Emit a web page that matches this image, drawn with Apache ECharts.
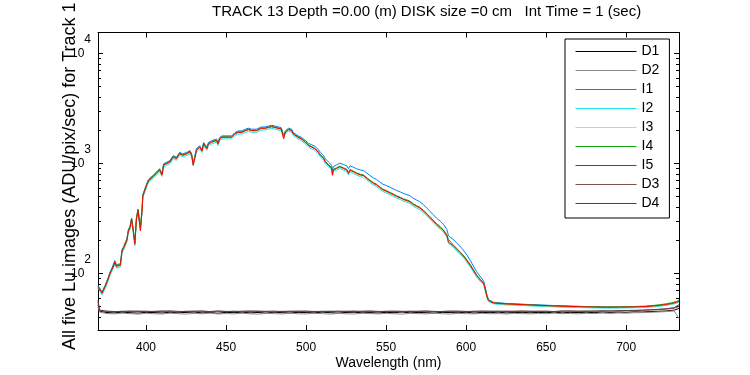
<!DOCTYPE html>
<html>
<head>
<meta charset="utf-8">
<script src="https://cdn.jsdelivr.net/npm/echarts@6/dist/echarts.min.js"></script>
<style>
  html, body { margin: 0; padding: 0; background: #fff; }
  #chart { width: 750px; height: 375px; }
</style>
</head>
<body>
<div id="chart"></div>
<script>
// wavelength grid (nm) for the five Lu image tracks
var wl = [370,371,372.5,374.5,376.5,377.5,378.5,379.5,380.5,381.5,
  382.5,384,385,386,387,388,389,390,391,392,
  393,394,395,396,396.5,397.5,398,399,400.5,401.5,
  402.5,404.5,406.5,408.5,410,411,413,415,417,419,
  421,423,425.5,427.5,428.5,429.5,430.5,431.5,433.5,435,
  436,437,438,439,440,441,442,444,445,446,
  447.5,449.5,450.5,451.5,452.5,453.5,454.5,455.5,457.5,460,
  462,464,466,467,469,470,472,474.5,476.5,478.5,
  480.5,482.5,484.5,486,487,489,490,491,492,493,
  495,497,499.5,501.5,503.5,505.5,507.5,509,511,512,
  514,516,516.5,517,519,521,523.5,525.5,526.5,527.5,
  529.5,531.5,534,536,538,540,542,544,546,548,
  550.5,552.5,554.5,556.5,559,561,563,565,567,569,
  571,573.5,575.5,577.5,579.5,581.5,584,586,588,589,
  590,592,594,596,598,600.5,602.5,604.5,606.5,609,
  610,611,612,613,614,615,617,621,625,630,
  638,646,655,663,671,680,688,696,705,712,
  717,721,725,728.5,731.5,733];

var I1 = [78,75,68,78,93,103,110,114,131,120,
  116,123,165,175,191,205,251,269,320,251,
  191,320,385,379,256,379,518,574,659,716,
  731,783,837,899,812,996,1030,1067,1182,1142,
  1266,1225,1266,1312,1225,1000,1030,1359,1454,1339,
  1556,1506,1405,1556,1506,1613,1671,1671,1556,1726,
  1787,1787,1851,1787,1726,1787,1851,1914,1981,1981,
  2053,2097,2053,1981,2053,2122,2154,2154,2197,2228,
  2197,2154,2122,1790,1981,2097,2122,2053,1914,1851,
  1787,1734,1628,1528,1483,1439,1350,1263,1180,1105,
  1033,966,860,936,970,1008,978,951,900,955,
  927,898,873,863,817,777,741,718,681,649,
  628,608,589,569,551,533,522,508,483,466,
  450,421,393,367,342,319,298,278,251,220,
  227,204,190,178,165,147,132,117,104,93,
  89,85,74,64,57.8,55.6,54.7,54,53.4,52.9,
  52.3,51.7,51.1,50.6,50.2,49.8,49.5,49.6,49.8,50.1,
  50.6,51.2,52,53.1,54.4,55.5];

var I2 = [73,70,64,73,87,96,103,107,122,112,
  109,115,154,164,178,192,236,252,300,238,
  178,300,361,355,250,356,486,538,618,671,
  685,733,785,843,765,933,965,1000,1108,1071,
  1186,1148,1186,1230,1150,950,970,1273,1362,1262,
  1458,1412,1320,1458,1412,1512,1565,1566,1460,1618,
  1675,1676,1735,1676,1620,1676,1735,1794,1856,1858,
  1924,1965,1925,1858,1925,1988,2018,2020,2060,2088,
  2060,2020,1990,1740,1858,1965,1988,1925,1795,1736,
  1676,1618,1512,1412,1363,1317,1230,1148,1071,1000,
  934,871,770,843,871,902,871,843,787,843,
  814,785,760,749,708,671,639,618,585,557,
  538,519,503,486,469,454,444,432,409,395,
  381,356,333,311,290,270,252,236,213,188,
  192,173,161,151,141,126.5,115,103.5,93,84,
  81,78.5,69,60,55.5,53.8,53,52.3,51.8,51.5,
  50.9,50.3,49.7,49.3,48.9,48.6,48.4,48.5,48.7,49.1,
  49.7,50.4,51.3,52.4,53.6,55];

var I3 = [76,72,66,75,90,99,106,111,126,116,
  113,118,158,169,184,198,242,260,308,246,
  186,308,370,366,260,366,498,552,634,690,
  704,754,806,866,795,960,993,1028,1140,1102,
  1220,1180,1220,1265,1182,985,1005,1310,1402,1300,
  1500,1452,1360,1500,1452,1555,1610,1612,1505,1665,
  1722,1725,1785,1725,1668,1725,1785,1846,1910,1912,
  1980,2022,1982,1915,1982,2046,2078,2080,2120,2150,
  2122,2080,2048,1780,1912,2024,2046,1982,1848,1787,
  1725,1666,1557,1455,1405,1357,1268,1183,1104,1032,
  963,898,800,868,897,928,897,868,812,868,
  838,809,783,771,729,691,658,636,602,574,
  554,535,518,500,483,467,457,444,422,407,
  393,367,343,320,298,278,259,242,219,196,
  197,178,166,155,145,130,118,106,95.5,86.5,
  83.5,80.5,71,61,56.4,54.5,53.8,53.1,52.6,52.2,
  51.6,51,50.4,50,49.6,49.3,49.1,49.2,49.4,49.8,
  50.4,51.1,52,53,54.3,55.8];

var I4 = [75,72,67,77,92,101,108,113,128,118,
  115,121,162,172,188,203,248,266,316,250,
  190,318,380,374,268,375,510,565,650,705,
  720,772,825,885,805,980,1012,1050,1162,1125,
  1245,1205,1245,1290,1205,1000,1020,1335,1428,1325,
  1530,1480,1385,1528,1480,1585,1640,1640,1535,1695,
  1755,1755,1815,1755,1700,1755,1815,1875,1940,1942,
  2012,2055,2012,1945,2012,2080,2110,2110,2152,2182,
  2152,2110,2080,1800,1945,2055,2080,2012,1880,1818,
  1755,1696,1585,1480,1430,1380,1290,1205,1123,1050,
  980,915,820,885,915,946,914,885,830,885,
  855,825,798,787,743,705,672,650,615,586,
  565,546,529,510,493,477,467,454,431,415,
  401,375,350,327,305,284,265,248,225,204,
  202,182,170,158,148,133,121,109,97.5,88,
  85,82,72.5,62.5,57.3,55.2,54.2,53.6,53.1,52.7,
  52.1,51.4,50.9,50.4,50.1,49.8,49.6,49.7,50,50.5,
  51.2,52,53,54.2,55.6,57.5];

var I5 = [76,73,66,76,90,100,107,111,127,116,
  113,119,160,170,185,199,244,261,311,244,
  185,311,374,368,244,368,503,557,640,695,
  710,760,813,873,787,967,1000,1036,1148,1109,
  1229,1189,1229,1274,1189,968,1000,1319,1412,1300,
  1511,1462,1364,1511,1462,1566,1622,1622,1511,1676,
  1735,1735,1797,1735,1676,1735,1797,1858,1923,1923,
  1993,2036,1993,1923,1993,2060,2091,2091,2133,2163,
  2133,2091,2060,1676,1923,2036,2060,1993,1858,1797,
  1735,1676,1566,1462,1412,1364,1274,1189,1109,1036,
  967,902,787,873,902,934,902,873,813,873,
  843,813,787,776,733,695,662,640,606,577,
  557,538,521,503,486,470,460,447,424,409,
  395,369,345,322,300,280,261,244,220,192,
  199,179,167,156,146,131,119,107,96,87,
  84,81,71,61.5,56.7,54.8,54,53.3,52.8,52.5,
  51.8,51.2,50.6,50.2,49.8,49.5,49.3,49.4,49.6,50,
  50.6,51.3,52.2,53.3,54.6,56];

// wavelength grid (nm) for the dark tracks
var wlD = [370,371,375,380,385,390,395,400,405,410,
  415,420,425,430,435,440,445,450,455,460,
  465,470,475,480,485,490,495,500,505,510,
  515,520,525,530,535,540,545,550,555,560,
  565,570,575,580,585,590,595,600,605,610,
  615,620,625,630,635,640,645,650,655,660,
  665,670,675,680,685,690,695,700,705,710,
  715,720,725,730,733];

var D1 = [52,45.5,44.2,43.8,44.5,44.0,43.6,44.3,44.1,43.7,
  44.4,43.9,44.2,44.6,43.8,44.1,43.5,44.3,44.0,44.5,
  43.8,44.2,43.6,44.4,44.0,43.7,44.3,44.1,43.8,44.5,
  44.0,43.6,44.2,44.4,43.9,44.1,43.7,44.3,44.0,44.6,
  43.8,44.2,44.0,43.6,44.3,44.1,43.9,44.4,43.7,44.2,
  44.0,44.5,43.8,44.1,44.3,43.9,44.2,44.0,44.5,43.8,
  44.3,44.1,44.4,44.0,44.6,44.2,44.5,44.3,44.8,44.6,
  45.0,45.3,45.6,46.4,48];

var D2 = [50,44.5,43.3,42.9,43.5,43.1,42.7,43.4,43.0,42.8,
  43.5,43.1,42.7,43.3,43.0,43.6,42.8,43.2,42.9,43.4,
  43.0,42.7,43.3,43.1,42.8,43.5,43.0,42.9,43.4,43.1,
  42.7,43.3,43.0,42.8,43.5,43.2,42.9,43.3,43.0,42.7,
  43.4,43.1,42.9,43.5,43.0,42.8,43.3,43.1,42.9,43.4,
  43.0,43.2,42.8,43.4,43.1,42.9,43.3,43.0,43.5,43.1,
  43.3,42.9,43.4,43.2,43.6,43.3,43.7,43.5,43.9,44.0,
  44.3,44.6,45.0,45.6,39];

var D3 = [55,46.0,45.2,44.8,45.4,45.0,45.5,44.9,45.3,45.6,
  45.0,44.7,45.4,45.1,45.6,44.9,45.3,45.0,45.5,44.8,
  45.2,45.6,45.0,44.7,45.3,45.1,45.5,44.9,45.2,45.0,
  45.4,44.8,45.3,45.6,45.0,45.2,44.8,45.4,45.1,44.9,
  45.5,45.0,45.3,44.8,45.2,45.5,45.0,44.9,45.4,45.1,
  45.3,44.9,45.5,45.0,45.2,45.4,44.9,45.3,45.1,45.6,
  45.2,45.4,45.0,45.5,45.3,45.7,45.4,45.8,45.9,46.2,
  46.5,46.9,47.4,48.3,50];

var D4 = [57,46.5,45.5,45.1,45.0,45.6,45.2,45.4,44.9,45.3,
  45.7,45.2,45.0,45.5,45.3,45.1,45.6,45.2,44.9,45.4,
  45.6,45.1,45.3,45.5,45.0,45.4,45.2,45.6,45.0,45.3,
  45.1,45.5,45.2,45.0,45.4,45.6,45.2,45.1,45.5,45.3,
  45.0,45.4,45.6,45.2,45.0,45.3,45.5,45.2,45.1,45.6,
  45.3,45.5,45.1,45.4,45.6,45.2,45.5,45.3,45.0,45.4,
  45.7,45.3,45.6,45.4,45.8,45.5,45.9,46.0,46.2,46.4,
  46.8,47.2,47.8,48.8,52];

var xTicks = [400, 450, 500, 550, 600, 650, 700];
var yMajor = [100, 1000, 10000];
var yMinor = [40, 50, 60, 70, 80, 90, 200, 300, 400, 500, 600, 700, 800, 900,
  2000, 3000, 4000, 5000, 6000, 7000, 8000, 9000];

var FONT = '"Liberation Sans", Arial, sans-serif';

function pairs(xs, ys) {
  var out = [];
  for (var i = 0; i < xs.length; i++) out.push([xs[i], ys[i]]);
  return out;
}

var lines = [
  {name: 'D1', x: wlD, y: D1, color: '#000000'},
  {name: 'D2', x: wlD, y: D2, color: '#8c8c8c'},
  {name: 'I1', x: wl, y: I1, color: '#0080ff'},
  {name: 'I2', x: wl, y: I2, color: '#20e0e8'},
  {name: 'I3', x: wl, y: I3, color: '#80ff80'},
  {name: 'I4', x: wl, y: I4, color: '#10a810'},
  {name: 'I5', x: wl, y: I5, color: '#ff0000'},
  {name: 'D3', x: wlD, y: D3, color: '#805050'},
  {name: 'D4', x: wlD, y: D4, color: '#663838'}
];

var series = lines.map(function (s) {
  return {
    name: s.name,
    type: 'line',
    data: pairs(s.x, s.y),
    symbol: 'none',
    showSymbol: false,
    lineStyle: {width: 1, color: s.color},
    itemStyle: {color: s.color},
    animation: false
  };
});

var yMin = 30.6, yMax = 15600;

function logAxis(pos, ticks, len) {
  return {
    type: 'log',
    logBase: 10,
    min: yMin,
    max: yMax,
    position: pos,
    axisLine: {show: true, lineStyle: {color: '#000', width: 1}},
    axisTick: {show: true, inside: true, length: len, customValues: ticks,
      lineStyle: {color: '#000', width: 1}},
    axisLabel: {show: false},
    splitLine: {show: false},
    minorTick: {show: false}
  };
}

var yLeft = logAxis('left', yMajor, 5);
yLeft.axisLabel = {
  show: true,
  customValues: yMajor,
  margin: 7,
  formatter: function (v) {
    return '{b|10}{s|' + Math.round(Math.log10(v)) + '}';
  },
  rich: {
    b: {fontSize: 12, fontFamily: FONT, color: '#000', lineHeight: 40},
    s: {fontSize: 12, fontFamily: FONT, color: '#000', lineHeight: 14, verticalAlign: 'top'}
  }
};
yLeft.name = 'All five Lu images (ADU/pix/sec) for Track 1';
yLeft.nameLocation = 'middle';
yLeft.nameGap = 19;
yLeft.nameMoveOverlap = false;
yLeft.nameTextStyle = {fontSize: 18, fontFamily: FONT, color: '#000', padding: [0, 0, 0, 10]};

function xAxis(pos) {
  return {
    type: 'value',
    min: 370,
    max: 733,
    position: pos,
    axisLine: {show: true, lineStyle: {color: '#000', width: 1}},
    axisTick: {show: true, inside: true, length: 5, customValues: xTicks,
      lineStyle: {color: '#000', width: 1}},
    axisLabel: {show: false},
    splitLine: {show: false}
  };
}

var xBottom = xAxis('bottom');
xBottom.axisLabel = {show: true, customValues: xTicks, margin: 12,
  fontSize: 12, fontFamily: FONT, color: '#000'};
xBottom.name = 'Wavelength (nm)';
xBottom.nameLocation = 'middle';
xBottom.nameGap = 26;
xBottom.nameMoveOverlap = false;
xBottom.nameTextStyle = {fontSize: 14, fontFamily: FONT, color: '#000'};

var option = {
  backgroundColor: '#fff',
  animation: false,
  title: {
    text: 'TRACK 13 Depth =0.00 (m) DISK size =0 cm   Int Time = 1 (sec)',
    left: 212,
    top: 4,
    padding: 0,
    textStyle: {fontSize: 15, fontWeight: 'normal', fontFamily: FONT, color: '#000'}
  },
  grid: {left: 98, top: 29, width: 581, height: 302, containLabel: false},
  legend: {
    orient: 'vertical',
    left: 565,
    top: 39,
    padding: [5, 10, 7, 10],
    itemWidth: 61,
    itemHeight: 15,
    itemGap: 4,
    itemStyle: {opacity: 0},
    lineStyle: {width: 1},
    borderColor: '#000',
    borderWidth: 1,
    backgroundColor: '#fff',
    selectedMode: false,
    textStyle: {fontSize: 14, fontFamily: FONT, color: '#000', lineHeight: 15},
    data: lines.map(function (s) { return s.name; })
  },
  xAxis: [xBottom, xAxis('top')],
  yAxis: [
    yLeft,
    logAxis('left', yMinor, 3),
    logAxis('right', yMajor, 5),
    logAxis('right', yMinor, 3)
  ],
  series: series
};

var chart = echarts.init(document.getElementById('chart'), null, {renderer: 'canvas'});
chart.setOption(option);

window.onresize = function () {
  setTimeout(function () {
    chart.resize();
  }, 200);
};
</script>
</body>
</html>
